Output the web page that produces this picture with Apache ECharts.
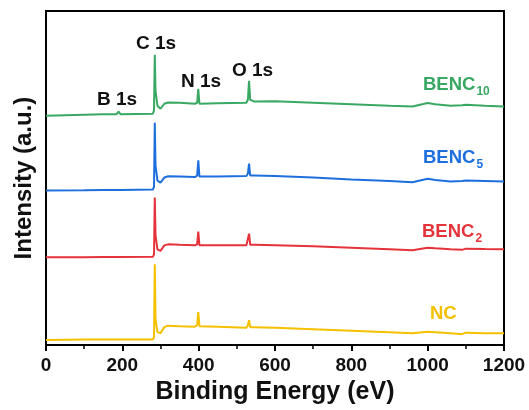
<!DOCTYPE html>
<html>
<head>
<meta charset="utf-8">
<script src="https://cdn.jsdelivr.net/npm/echarts@6/dist/echarts.min.js"></script>
<style>
  html, body { margin: 0; padding: 0; background: #fff; }
  #chart { width: 529px; height: 410px; }
</style>
</head>
<body>
<div id="chart"></div>
<script>
// binding energy (eV) sample points shared by all spectra
const energy = [0, 100, 150, 185, 190, 195, 200, 280, 283, 285, 287, 292, 300, 310, 320, 350, 390, 396, 399, 402, 450, 525, 529, 532, 535, 545, 600, 700, 800, 900, 960, 1000, 1020, 1060, 1090, 1100, 1150, 1200];

// stacked intensities (a.u.)
const nc     = [5, 5.5, 5.5, 5.5, 5.5, 5.5, 5.5, 5.5, 8, 81, 26, 13, 12, 18, 19.5, 19, 18.5, 20, 33, 19, 18.5, 17.5, 20, 25, 18, 18, 17.5, 16, 14.5, 13, 12, 13.5, 13, 12, 11, 12.5, 12, 12];
const benc2  = [88, 88.2, 88.3, 88.3, 88.6, 88.3, 88.3, 88.5, 91, 148, 110, 96, 94.5, 100, 101, 100.5, 100, 101, 113.7, 100, 100, 100, 102, 111.7, 100.5, 100.5, 100, 99, 97.5, 96, 95, 97.7, 97, 96, 95.5, 96.7, 96.3, 96];
const benc5  = [155, 155.3, 155.5, 155.5, 156.5, 155.5, 155.5, 156, 159, 223, 180, 165, 163, 168, 169.3, 169, 168.5, 170, 185.3, 169, 169, 169.5, 172, 182, 170, 170, 169.5, 168, 166, 164.5, 163.3, 166.7, 165.5, 164, 164.5, 165, 164.5, 164];
const benc10 = [230, 231, 231.5, 231.5, 234, 231.5, 231.7, 232, 235, 291, 255, 240, 237, 242, 243.3, 243, 242, 243, 257, 242, 242.5, 243, 246, 265, 246, 244.3, 244.5, 243, 241.5, 240, 239.3, 242.7, 241.5, 240, 240.5, 241, 240, 239.3];

const xTicks = [0, 200, 400, 600, 800, 1000, 1200];
const peakNames = ['B 1s', 'C 1s', 'N 1s', 'O 1s'];

const colors = {
  nc: '#f5c000',
  benc2: '#e5333b',
  benc5: '#1e6fde',
  benc10: '#38a862'
};

const pair = vals => energy.map((e, i) => [e, vals[i]]);

const chart = echarts.init(document.getElementById('chart'));

const boldFont = { fontFamily: 'Liberation Sans', fontWeight: 'bold' };

const sampleLabel = (txt, sub, color, x, y) => ({
  type: 'text',
  left: x,
  top: y,
  style: {
    text: sub ? `{a|${txt}}{b|${sub}}` : `{a|${txt}}`,
    rich: {
      a: Object.assign({ fontSize: 18.5, fill: color, color: color }, boldFont),
      b: Object.assign({ fontSize: 12, fill: color, color: color, padding: [14, 0, 0, 1] }, boldFont)
    }
  }
});

const peakLabel = (txt, x, y) => ({
  type: 'text',
  left: x,
  top: y,
  style: Object.assign({ text: txt, fontSize: 19, fill: '#111' }, boldFont)
});

chart.setOption({
  animation: false,
  grid: {
    left: 46, right: 25, top: 11, bottom: 64,
    show: true, borderColor: '#000', borderWidth: 2
  },
  xAxis: {
    type: 'value',
    min: 0, max: 1200, interval: 200,
    name: 'Binding Energy (eV)',
    nameLocation: 'middle',
    nameGap: 34,
    nameTextStyle: Object.assign({ fontSize: 25, color: '#111' }, boldFont),
    axisLine: { lineStyle: { color: '#000', width: 2 } },
    axisTick: { length: 6, lineStyle: { color: '#000', width: 2 } },
    minorTick: { show: true, splitNumber: 2, length: 4, lineStyle: { color: '#000', width: 1.5 } },
    splitLine: { show: false },
    axisLabel: Object.assign({
      fontSize: 19, color: '#111', margin: 11,
      formatter: v => xTicks.includes(v) ? String(v) : ''
    }, boldFont)
  },
  yAxis: {
    type: 'value',
    min: 0, max: 335,
    name: 'Intensity (a.u.)',
    nameLocation: 'middle',
    nameGap: 10,
    nameTextStyle: Object.assign({ fontSize: 24, color: '#111' }, boldFont),
    axisLine: { show: true, lineStyle: { color: '#000', width: 2 } },
    axisTick: { show: false },
    axisLabel: { show: false },
    splitLine: { show: false }
  },
  series: [
    { name: 'NC', data: pair(nc), color: colors.nc },
    { name: 'BENC2', data: pair(benc2), color: colors.benc2 },
    { name: 'BENC5', data: pair(benc5), color: colors.benc5 },
    { name: 'BENC10', data: pair(benc10), color: colors.benc10 }
  ].map(s => Object.assign({
    type: 'line',
    showSymbol: false,
    lineStyle: { width: 2 },
    z: 3
  }, s)),
  graphic: [
    peakLabel(peakNames[0], 97, 90),
    peakLabel(peakNames[1], 136, 34),
    peakLabel(peakNames[2], 181, 72),
    peakLabel(peakNames[3], 232, 61),
    sampleLabel('BENC', '10', colors.benc10, 423, 75),
    sampleLabel('BENC', '5', colors.benc5, 423, 148),
    sampleLabel('BENC', '2', colors.benc2, 422, 222),
    sampleLabel('NC', '', colors.nc, 430, 304)
  ]
});
</script>
</body>
</html>
